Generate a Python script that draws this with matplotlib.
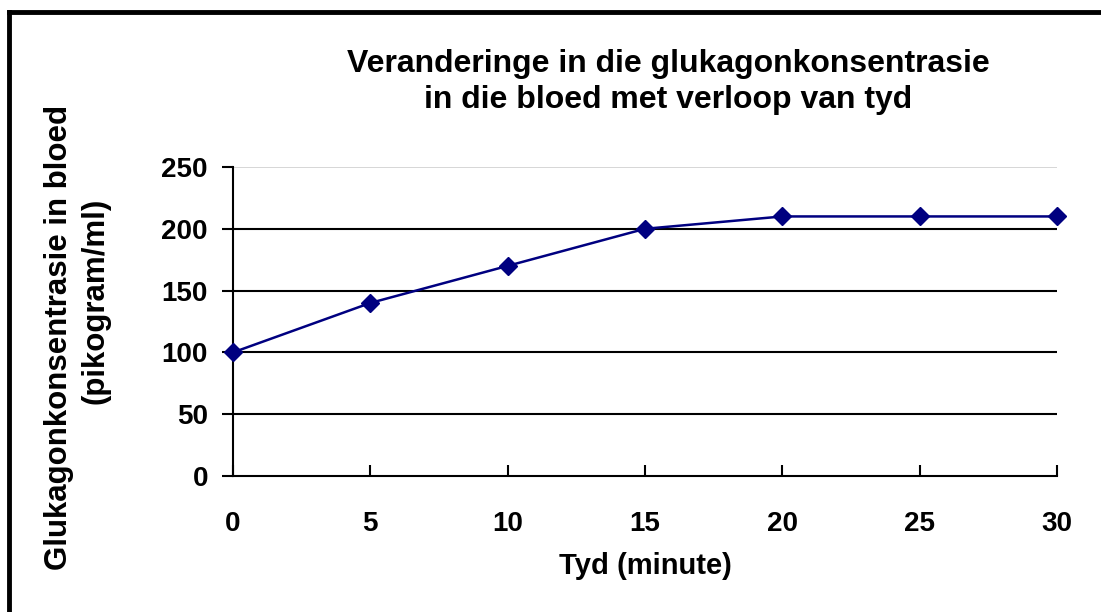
import matplotlib

matplotlib.use("Agg")
import matplotlib.pyplot as plt
from matplotlib.lines import Line2D

# data
minutes = [0, 5, 10, 15, 20, 25, 30]
glucagon = [100, 140, 170, 200, 210, 210, 210]
x_ticks = [0, 5, 10, 15, 20, 25, 30]
y_ticks = [0, 50, 100, 150, 200, 250]

plt.rcParams["font.family"] = ["Liberation Sans", "DejaVu Sans"]
plt.rcParams["font.weight"] = "bold"

W, H = 1101, 612
fig = plt.figure(figsize=(W / 100, H / 100), dpi=100)
ax = fig.add_axes([233 / W, 1 - 476 / H, (1057 - 233) / W, (476 - 167) / H])

# horizontal gridlines (black), top one light grey like the plot frame
for yv in y_ticks[1:-1]:
    ax.axhline(yv, color="black", linewidth=1.5, zorder=1)
ax.axhline(y_ticks[-1], color="#d0d0d0", linewidth=1.2, zorder=1)

ax.plot(minutes, glucagon, color="#000080", linewidth=1.8, marker="D",
        markersize=9, zorder=3, clip_on=False)

ax.set_xlim(0, 30)
ax.set_ylim(0, 250)
ax.set_xticks(x_ticks)
ax.set_yticks(y_ticks)
ax.tick_params(axis="x", direction="in", length=8, width=1.5, pad=25,
               labelsize=20)
ax.tick_params(axis="y", direction="out", length=8, width=1.5, pad=10,
               labelsize=20)
for lab in ax.get_xticklabels() + ax.get_yticklabels():
    lab.set_fontweight("bold")

for side in ("top", "right"):
    ax.spines[side].set_visible(False)
for side in ("left", "bottom"):
    ax.spines[side].set_linewidth(1.5)
    ax.spines[side].set_color("black")

fig.text(668 / W, 1 - 82 / H,
         "Veranderinge in die glukagonkonsentrasie\nin die bloed met verloop van tyd",
         ha="center", va="center", fontsize=23, fontweight="bold",
         linespacing=1.24)
fig.text(645 / W, 1 - 566 / H, "Tyd (minute)", ha="center", va="center",
         fontsize=21, fontweight="bold")
fig.text(59 / W, 1 - 337 / H, "Glukagonkonsentrasie in bloed",
         ha="center", va="center", rotation=90, fontsize=22.5,
         fontweight="bold")
fig.text(96 / W, 1 - 301 / H, "(pikogram/ml)",
         ha="center", va="center", rotation=90, fontsize=22.5,
         fontweight="bold")

# outer frame: only top and left edges fall inside the image
fig.add_artist(Line2D([9 / W, 1.0], [1 - 12 / H, 1 - 12 / H],
                      transform=fig.transFigure, color="black", linewidth=3.5))
fig.add_artist(Line2D([9 / W, 9 / W], [1 - 12 / H, 0.0],
                      transform=fig.transFigure, color="black", linewidth=3.5))

fig.savefig("out.png", dpi=100)
